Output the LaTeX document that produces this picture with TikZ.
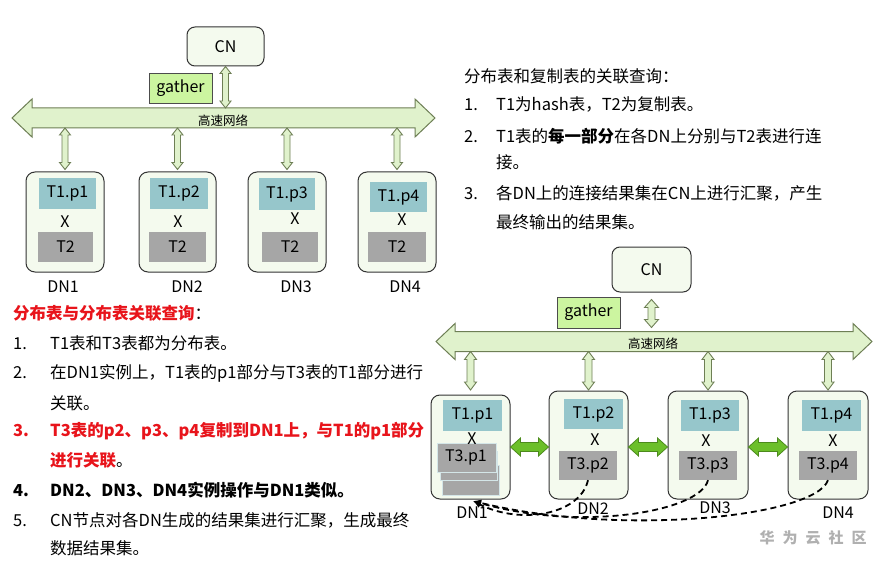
\documentclass[tikz,border=0pt]{standalone}
\usepackage{fontspec}
\setmainfont{Noto Sans CJK SC}
\usetikzlibrary{calc,arrows.meta}
\definecolor{boxfill}{HTML}{F4FAEE}
\definecolor{tealbox}{HTML}{96C6CB}
\definecolor{graybox}{HTML}{A6A6A6}
\definecolor{gatherfill}{HTML}{CCF5A0}
\definecolor{netfill}{HTML}{E0F2CC}
\definecolor{netdraw}{HTML}{6E7F55}
\definecolor{brightg}{HTML}{6CBF2A}
\definecolor{brightdraw}{HTML}{4C8A1C}
\definecolor{redtxt}{HTML}{E8141B}
\definecolor{wmgray}{HTML}{B0B0B0}
\definecolor{stackline}{HTML}{D4E6E8}
\newcommand\labfont{\fontsize{16}{16}\selectfont}
\newcommand\listfont{\fontsize{16.5}{20}\selectfont}
\newcommand\hdarrow[6]{\draw[#1] let \p1=#2, \p2=#3 in (\x1,\y1) -- (\x1+#6pt,\y1+#5pt) -- (\x1+#6pt,\y1+#4pt) -- (\x2-#6pt,\y1+#4pt) -- (\x2-#6pt,\y1+#5pt) -- (\x2,\y1) -- (\x2-#6pt,\y1-#5pt) -- (\x2-#6pt,\y1-#4pt) -- (\x1+#6pt,\y1-#4pt) -- (\x1+#6pt,\y1-#5pt) -- cycle;}
\newcommand\vdarrow[6]{\draw[#1] let \p1=#2, \p2=#3 in (\x1,\y1) -- (\x1+#5pt,\y1-#6pt) -- (\x1+#4pt,\y1-#6pt) -- (\x1+#4pt,\y2+#6pt) -- (\x1+#5pt,\y2+#6pt) -- (\x1,\y2) -- (\x1-#5pt,\y2+#6pt) -- (\x1-#4pt,\y2+#6pt) -- (\x1-#4pt,\y1-#6pt) -- (\x1-#5pt,\y1-#6pt) -- cycle;}
\begin{document}
\begin{tikzpicture}[x=1pt,y=-1pt,
  rbox/.style={draw=black!80, fill=boxfill, rounded corners=9pt, line width=1pt, inner sep=0pt, font=\labfont},
  tbox/.style={fill=tealbox, inner sep=0pt, font=\labfont},
  gbox/.style={fill=graybox, inner sep=0pt, font=\labfont},
  sbox/.style={fill=graybox, draw=stackline, line width=0.8pt, inner sep=0pt, font=\labfont},
  gath/.style={draw=black!70, fill=gatherfill, line width=0.8pt, inner sep=0pt, font=\labfont},
  netarr/.style={draw=netdraw, fill=netfill, line width=1pt, line join=miter},
  smarr/.style={draw=netdraw, fill=netfill, line width=0.9pt, line join=miter},
  grarr/.style={draw=brightdraw, fill=brightg, line width=0.8pt, line join=miter},
  dasharr/.style={line width=1.8pt, dash pattern=on 6pt off 4pt, -{Latex[length=8pt,width=7pt]}},
  netlab/.style={inner sep=0pt, font=\fontsize{12.5}{13}\selectfont},
  plain/.style={inner sep=0pt, font=\labfont},
  ltxt/.style={inner sep=0pt, anchor=base west, font=\listfont}
]
\useasboundingbox (0,0) rectangle (880,564);
\fill[white] (0,0) rectangle (880,564);

% ===== top-left diagram =====
\node[rbox, rounded corners=8pt, minimum width=77pt, minimum height=39pt] (cnA) at (225.5,46.5) {CN};
\node[gath, minimum width=63pt, minimum height=30pt] (gatherA) at (180.5,88) {gather};
\coordinate (netAL) at (12,118);
\coordinate (netAR) at (435,118);
\coordinate (netAtop) at (0,108);
\coordinate (netAbot) at (0,128);
\hdarrow{netarr}{(netAL)}{(netAR)}{10}{19}{20}
\node[netlab] (netlabA) at (223,121) {高速网络};

\node[rbox, minimum width=78pt, minimum height=100pt] (dnA1) at (65,222) {};
\node[rbox, minimum width=77pt, minimum height=100pt] (dnA2) at (177.5,222) {};
\node[rbox, minimum width=78pt, minimum height=100pt] (dnA3) at (287,222) {};
\node[rbox, minimum width=78pt, minimum height=100pt] (dnA4) at (397,222) {};

\vdarrow{smarr}{(cnA.south)}{(cnA.south |- netAtop)}{3}{5.5}{7}
\vdarrow{smarr}{(dnA1.north |- netAbot)}{($(dnA1.north)+(0,-2)$)}{3}{5.5}{7}
\vdarrow{smarr}{(dnA2.north |- netAbot)}{($(dnA2.north)+(0,-2)$)}{3}{5.5}{7}
\vdarrow{smarr}{(dnA3.north |- netAbot)}{($(dnA3.north)+(0,-2)$)}{3}{5.5}{7}
\vdarrow{smarr}{(dnA4.north |- netAbot)}{($(dnA4.north)+(0,-2)$)}{3}{5.5}{7}

\node[tbox, minimum width=57pt, minimum height=31pt] (tA1) at (67.5,193.5) {T1.p1};
\node[tbox, minimum width=58pt, minimum height=31pt] (tA2) at (179,193.5) {T1.p2};
\node[tbox, minimum width=56pt, minimum height=32pt] (tA3) at (287,194) {T1.p3};
\node[tbox, minimum width=57pt, minimum height=30pt] (tA4) at (398.5,197) {T1.p4};
\node[plain] (xA1) at (65,222) {X};
\node[plain] (xA2) at (178,222) {X};
\node[plain] (xA3) at (295,219) {X};
\node[plain] (xA4) at (402,220) {X};
\node[gbox, minimum width=55pt, minimum height=30pt] (gA1) at (65.5,247) {T2};
\node[gbox, minimum width=57pt, minimum height=30pt] (gA2) at (177.5,247) {T2};
\node[gbox, minimum width=56pt, minimum height=30pt] (gA3) at (290,247) {T2};
\node[gbox, minimum width=58pt, minimum height=30pt] (gA4) at (397,247) {T2};
\node[plain] (lA1) at (63,287) {DN1};
\node[plain] (lA2) at (187,287) {DN2};
\node[plain] (lA3) at (296,287) {DN3};
\node[plain] (lA4) at (405,287) {DN4};

% ===== top-right text =====
\node[ltxt] (trT) at (464,83) {分布表和复制表的关联查询：};
\node[ltxt] (trN1) at (464,111) {1.};
\node[ltxt] (trL1) at (496,111) {T1为hash表，T2为复制表。};
\node[ltxt] (trN2) at (464,143) {2.};
\node[ltxt] (trL2) at (496,143) {T1表的\textbf{每一部分}在各DN上分别与T2表进行连};
\node[ltxt] (trL2b) at (496,169) {接。};
\node[ltxt] (trN3) at (464,200) {3.};
\node[ltxt] (trL3) at (496,200) {各DN上的连接结果集在CN上进行汇聚，产生};
\node[ltxt] (trL3b) at (496,228) {最终输出的结果集。};

% ===== bottom-left text =====
\node[ltxt] (blT) at (13,319) {{\color{redtxt}\bfseries 分布表与分布表关联查询}：};
\node[ltxt] (blN1) at (13,349) {1.};
\node[ltxt] (blL1) at (50,349) {T1表和T3表都为分布表。};
\node[ltxt] (blN2) at (13,378) {2.};
\node[ltxt] (blL2) at (50,378) {在DN1实例上，T1表的p1部分与T3表的T1部分进行};
\node[ltxt] (blL2b) at (50,409) {关联。};
\node[ltxt, text=redtxt, font=\listfont\bfseries] (blN3) at (13,436) {3.};
\node[ltxt, text=redtxt, font=\listfont\bfseries] (blL3) at (50,436) {T3表的p2、p3、p4复制到DN1上，与T1的p1部分};
\node[ltxt] (blL3b) at (50,466) {{\color{redtxt}\bfseries 进行关联}。};
\node[ltxt, font=\listfont\bfseries] (blN4) at (13,496) {4.};
\node[ltxt, font=\listfont\bfseries] (blL4) at (50,496) {DN2、DN3、DN4实例操作与DN1类似。};
\node[ltxt] (blN5) at (13,526) {5.};
\node[ltxt] (blL5) at (50,526) {CN节点对各DN生成的结果集进行汇聚，生成最终};
\node[ltxt] (blL5b) at (50,554) {数据结果集。};

% ===== bottom-right diagram =====
\node[rbox, rounded corners=8pt, minimum width=79pt, minimum height=45pt] (cnB) at (651.5,269.5) {CN};
\node[gath, minimum width=63pt, minimum height=31pt] (gatherB) at (588.5,312.5) {gather};
\coordinate (netBL) at (436,341.5);
\coordinate (netBR) at (872,341.5);
\coordinate (netBtop) at (0,331.5);
\coordinate (netBbot) at (0,351.5);
\coordinate (dnBy) at (0,390);
\coordinate (gy) at (0,447);
\hdarrow{netarr}{(netBL)}{(netBR)}{10}{18}{19}
\node[netlab] (netlabB) at (653,344) {高速网络};

\node[rbox, minimum width=79pt, minimum height=104pt] (dnB1) at (470.5,447) {};
\node[rbox, minimum width=79pt, minimum height=108pt] (dnB2) at (588.5,445) {};
\node[rbox, minimum width=80pt, minimum height=108pt] (dnB3) at (708,445) {};
\node[rbox, minimum width=80pt, minimum height=108pt] (dnB4) at (828,445) {};

\vdarrow{smarr}{($(cnB.south)+(0,7)$)}{($(cnB.south |- netBtop)+(0,-4)$)}{3.5}{7}{8}
\vdarrow{smarr}{(dnB1.north |- netBbot)}{(dnB1.north |- dnBy)}{3.5}{6}{8}
\vdarrow{smarr}{(dnB2.north |- netBbot)}{(dnB2.north |- dnBy)}{3.5}{6}{8}
\vdarrow{smarr}{(dnB3.north |- netBbot)}{(dnB3.north |- dnBy)}{3.5}{6}{8}
\vdarrow{smarr}{(dnB4.north |- netBbot)}{(dnB4.north |- dnBy)}{3.5}{6}{8}

\hdarrow{grarr}{(dnB1.east |- gy)}{(dnB2.west |- gy)}{4.5}{9}{10}
\hdarrow{grarr}{(dnB2.east |- gy)}{(dnB3.west |- gy)}{4.5}{9}{10}
\hdarrow{grarr}{(dnB3.east |- gy)}{(dnB4.west |- gy)}{4.5}{9}{10}

\node[tbox, minimum width=59pt, minimum height=31pt] (tB1) at (472.5,415.5) {T1.p1};
\node[tbox, minimum width=59pt, minimum height=30pt] (tB2) at (593.5,414) {T1.p2};
\node[tbox, minimum width=58pt, minimum height=31pt] (tB3) at (710,415.5) {T1.p3};
\node[tbox, minimum width=59pt, minimum height=31pt] (tB4) at (831.5,415.5) {T1.p4};

\node[sbox, minimum width=57pt, minimum height=30pt] (sB3) at (470.5,480) {};
\node[sbox, minimum width=57pt, minimum height=29pt] (sB2) at (468.5,465.5) {};
\node[sbox, minimum width=59pt, minimum height=29pt] (gB1) at (466.5,457.5) {};
\node[plain] (gB1lab) at (466,457.5) {T3.p1};
\node[plain] (xB1) at (472,439) {X};
\node[plain] (xB2) at (595,440) {X};
\node[plain] (xB3) at (706,441) {X};
\node[plain] (xB4) at (833,441) {X};
\node[gbox, minimum width=58pt, minimum height=29pt] (gB2) at (588,465.5) {T3.p2};
\node[gbox, minimum width=58pt, minimum height=29pt] (gB3) at (708,465.5) {T3.p3};
\node[gbox, minimum width=58pt, minimum height=29pt] (gB4) at (828,465.5) {T3.p4};

\node[plain] (lB1) at (472,513) {DN1};
\node[plain] (lB2) at (593,509) {DN2};
\node[plain] (lB3) at (715,508) {DN3};
\node[plain] (lB4) at (838,513) {DN4};

\coordinate (tipB) at (473,501);
\draw[dasharr] (gB2.south) .. controls (580,515) and (520,525) .. (tipB);
\draw[dasharr] (gB3.south) .. controls (700,512) and (580,532) .. (tipB);
\draw[dasharr] (gB4.south) .. controls (815,517) and (620,537) .. (tipB);

\node[inner sep=0pt, text=wmgray, font=\fontsize{15}{15}\selectfont\bfseries] (wmark) at (813,538) {华\hspace{8pt}为\hspace{8pt}云\hspace{8pt}社\hspace{8pt}区};
\end{tikzpicture}
\end{document}
